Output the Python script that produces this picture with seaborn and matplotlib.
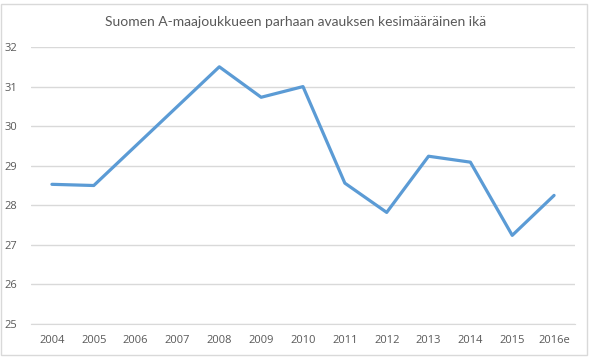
import seaborn as sns
import pandas as pd
import matplotlib.pyplot as plt
from matplotlib.patches import Rectangle

years = ['2004', '2005', '2006', '2007', '2008', '2009', '2010',
         '2011', '2012', '2013', '2014', '2015', '2016e']
age = [28.53, 28.5, 29.5, 30.5, 31.5, 30.73, 31.0,
       28.56, 27.82, 29.24, 29.09, 27.24, 28.25]
title = 'Suomen A-maajoukkueen parhaan avauksen kesimääräinen ikä'

sns.set_style('white')
plt.rcParams['font.family'] = ['Open Sans', 'DejaVu Sans']

df = pd.DataFrame({'pos': range(len(years)), 'age': age})

fig = plt.figure(figsize=(5.92, 3.6), dpi=100)
# chart frame like the excel chart area
fig.patches.append(Rectangle((0.002, 0.015), 0.99, 0.975, transform=fig.transFigure,
                             fill=False, edgecolor='#D9D9D9', linewidth=1))
ax = fig.add_axes([31 / 592, 0.1, 544 / 592, 0.7694])

sns.lineplot(data=df, x='pos', y='age', ax=ax, color='#5B9BD5', linewidth=2.3)

ax.set_xlim(-0.5, 12.5)
ax.set_ylim(25, 32)
ax.set_yticks(range(25, 33))
ax.set_xticks(range(len(years)))
ax.set_xticklabels(years)
ax.yaxis.grid(True, color='#D9D9D9', linewidth=1)
ax.set_axisbelow(True)
for s in ['top', 'right', 'left']:
    ax.spines[s].set_visible(False)
ax.spines['bottom'].set_color('#D9D9D9')
ax.tick_params(axis='both', length=0, labelsize=8, labelcolor='#595959')
ax.tick_params(axis='y', pad=10)
ax.tick_params(axis='x', pad=8)
ax.set_xlabel('')
ax.set_ylabel('')
fig.text(0.5, 1 - 22 / 360, title, ha='center', va='center',
         fontsize=10, color='#595959', family=['Lato', 'DejaVu Sans'])

fig.savefig('out.png', dpi=100)
